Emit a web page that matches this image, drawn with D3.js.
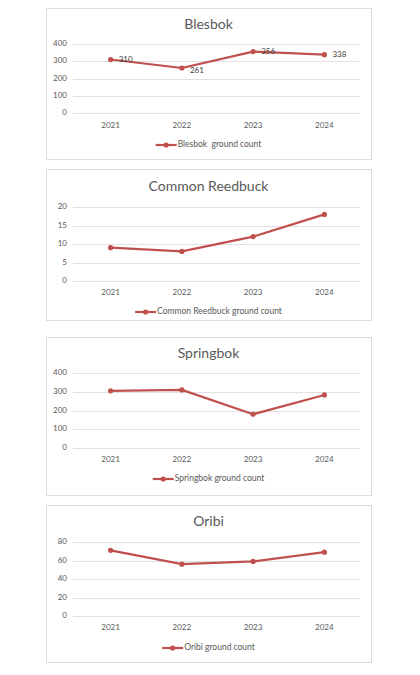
<!DOCTYPE html>
<html lang="en">
<head>
  <meta charset="UTF-8">
  <title>Ground counts</title>
  <style>
    body {
      margin: 0;
      background: #fff;
      font-family: 'Lato', 'Open Sans', sans-serif;
    }
    .panel-border { fill: #fff; stroke: #dcdcdc; stroke-width: 1; }
    .grid line { stroke: #d9d9d9; stroke-width: 0.8; }
    .axis-label { fill: #595959; font-size: 8px; }
    .title { fill: #595959; font-size: 14px; }
    .legend-text { fill: #595959; font-size: 8.5px; white-space: pre; }
    .data-label { fill: #404040; font-size: 8px; }
  </style>
  <script src="https://d3js.org/d3.v7.min.js"></script>
</head>
<body>
  <svg id="chart" width="420" height="675"></svg>
  <script>
    // years on the x axis
    const years = ["2021", "2022", "2023", "2024"];

    // counts per species
    const blesbok = [310, 261, 356, 338];
    const reedbuck = [9, 8, 12, 18];
    const springbok = [305, 310, 180, 283];
    const oribi = [71, 56, 59, 69];

    const titles = ["Blesbok", "Common Reedbuck", "Springbok", "Oribi"];
    const legendNames = ["Blesbok  ground count", "Common Reedbuck ground count", "Springbok ground count", "Oribi ground count"];
    const yMax = [400, 20, 400, 80];
    const yStep = [100, 5, 100, 20];

    const series = [blesbok, reedbuck, springbok, oribi];
    const showLabels = [true, false, false, false];

    // panel layout (top, height, plot top, plot bottom relative to panel)
    const panels = [
      { top: 8, h: 151, gTop: 36, gBot: 105, xLab: 118, leg: 137, tY: 17 },
      { top: 169, h: 151, gTop: 38, gBot: 112, xLab: 124, leg: 143, tY: 18 },
      { top: 337, h: 158, gTop: 36, gBot: 111, xLab: 123, leg: 142, tY: 17 },
      { top: 505, h: 157, gTop: 37, gBot: 111, xLab: 123, leg: 143, tY: 17 }
    ];

    const red = "#c0504d";
    const svg = d3.select("#chart");
    const left = 46, right = 371;

    const x = d3.scalePoint().domain(years).range([75, 360]).padding(0.5);

    panels.forEach((p, i) => {
      const g = svg.append("g").attr("transform", `translate(0,${p.top})`);

      g.append("rect").attr("class", "panel-border")
        .attr("x", left + 0.5).attr("y", 0.5)
        .attr("width", right - left).attr("height", p.h);

      g.append("text").attr("class", "title")
        .attr("x", (left + right) / 2).attr("y", p.tY)
        .attr("text-anchor", "middle").attr("dominant-baseline", "middle")
        .text(titles[i]);

      const y = d3.scaleLinear().domain([0, yMax[i]]).range([p.gBot, p.gTop]);
      const ticks = d3.range(0, yMax[i] + 1, yStep[i]);

      const grid = g.append("g").attr("class", "grid");
      grid.selectAll("line").data(ticks).join("line")
        .attr("x1", 73).attr("x2", 360)
        .attr("y1", d => Math.round(y(d)) + 0.5).attr("y2", d => Math.round(y(d)) + 0.5);

      g.selectAll(".ylab").data(ticks).join("text")
        .attr("class", "axis-label ylab")
        .attr("x", 67).attr("y", d => y(d))
        .attr("text-anchor", "end").attr("dominant-baseline", "middle")
        .text(d => d);

      g.selectAll(".xlab").data(years).join("text")
        .attr("class", "axis-label xlab")
        .attr("x", d => x(d)).attr("y", p.xLab)
        .attr("text-anchor", "middle").attr("dominant-baseline", "middle")
        .text(d => d);

      const pts = years.map((yr, j) => ({ yr, v: series[i][j] }));

      g.append("path").datum(pts)
        .attr("fill", "none").attr("stroke", red).attr("stroke-width", 2.2)
        .attr("stroke-linejoin", "round")
        .attr("d", d3.line().x(d => x(d.yr)).y(d => y(d.v)));

      g.selectAll(".pt").data(pts).join("circle")
        .attr("class", "pt")
        .attr("cx", d => x(d.yr)).attr("cy", d => y(d.v))
        .attr("r", 2.6).attr("fill", red);

      if (showLabels[i]) {
        g.selectAll(".dl").data(pts).join("text")
          .attr("class", "data-label dl")
          .attr("x", d => x(d.yr) + 8).attr("y", d => y(d.v) + (d.yr === "2022" ? 3 : 0))
          .attr("dominant-baseline", "middle")
          .text(d => d.v);
      }

      // legend
      const leg = g.append("g");
      const txt = leg.append("text").attr("class", "legend-text")
        .attr("x", 22).attr("y", p.leg)
        .attr("dominant-baseline", "middle")
        .text(legendNames[i]);
      const tw = txt.node().getComputedTextLength();
      const total = 22 + tw;
      leg.attr("transform", `translate(${(left + right) / 2 - total / 2},0)`);
      leg.append("line").attr("x1", 0).attr("x2", 21)
        .attr("y1", p.leg).attr("y2", p.leg)
        .attr("stroke", red).attr("stroke-width", 2.2);
      leg.append("circle").attr("cx", 10.5).attr("cy", p.leg)
        .attr("r", 2.6).attr("fill", red);
    });
  </script>
</body>
</html>
